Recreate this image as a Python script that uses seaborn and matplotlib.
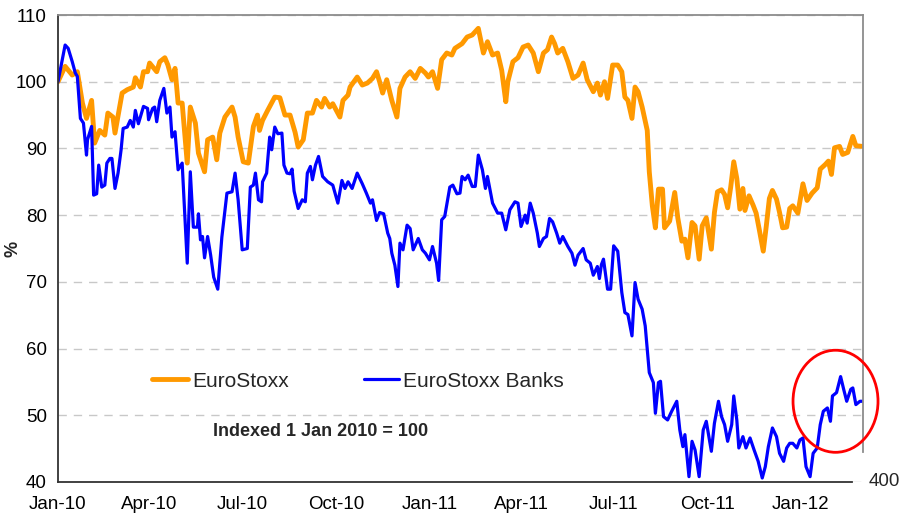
import pandas as pd
import seaborn as sns
import matplotlib
matplotlib.use("Agg")
import matplotlib.pyplot as plt
import matplotlib.dates as mdates
from matplotlib.patches import Ellipse

# Days since 1 Jan 2010 and index values
stoxx_days = [0, 7, 14, 19, 24, 28, 33, 36, 41, 46, 49, 54, 56, 63, 68, 74, 76, 81, 84, 88,
              90, 97, 100, 105, 108, 112, 115, 118, 122, 127, 130, 135, 138, 144, 147, 152, 156, 159, 164, 171,
              174, 177, 182, 187, 192, 196, 198, 201, 206, 213, 218, 223, 228, 233, 236, 241, 245, 250, 254, 259,
              262, 267, 270, 277, 280, 285, 287, 294, 299, 304, 309, 313, 316, 319, 323, 328, 333, 336, 341, 346,
              351, 356, 361, 364, 368, 373, 377, 382, 387, 390, 397, 402, 407, 413, 418, 422, 427, 432, 436, 440,
              442, 447, 452, 457, 462, 467, 472, 477, 481, 485, 488, 491, 496, 501, 506, 511, 516, 520, 526, 530,
              533, 537, 540, 545, 550, 554, 557, 560, 564, 567, 570, 574, 579, 581, 584, 587, 590, 594, 596, 601,
              606, 609, 613, 616, 619, 623, 626, 630, 633, 637, 642, 645, 648, 652, 655, 658, 661, 664, 667, 670,
              673, 675, 679, 683, 686, 689, 693, 696, 699, 702, 706, 709, 712, 716, 719, 722, 727, 732, 736, 741,
              746, 749, 754, 757, 760, 763, 768, 771, 776, 781, 784, 791]
stoxx = [100, 102.3, 101, 101.5, 96.8, 94.5, 97.2, 90.8, 92.7, 92, 95.3, 94.7, 92.3, 98.3, 98.8, 99.2, 100.6, 99.2, 101.5, 101.5,
         102.8, 101.5, 103, 103.6, 102.5, 100.3, 102, 96.8, 96.8, 87.8, 96.2, 93.8, 89.3, 86.5, 91.3, 91.7, 88.3, 92.3, 94.7, 96.2,
         94.7, 91.7, 88, 87.8, 93.3, 95, 92.7, 94.2, 95.7, 97.7, 97.6, 95, 95, 92.4, 90.2, 91.3, 95.3, 95.3, 97.2, 96.2,
         97.5, 96.2, 96.7, 94.7, 97.2, 98, 99.2, 100.7, 99.5, 99.8, 100.5, 101.5, 100, 98.3, 100.3, 97.2, 94.7, 99, 100.7, 101.5,
         100.5, 102, 101.3, 100.7, 101.5, 99, 103.3, 104.3, 104, 105, 105.7, 106.7, 107, 108, 104.3, 106, 104, 104.3, 101.7, 97,
         100, 103, 103.6, 105.2, 105.5, 104.3, 101.5, 104.3, 104.8, 106.7, 105.7, 104.3, 105, 103, 100.5, 101, 102.8, 100.3, 98.5, 99.8,
         98, 100, 97.5, 102.5, 102.5, 101.5, 97.7, 97.2, 94.5, 99.2, 98.5, 96.2, 92.7, 86.5, 81.4, 78.1, 83.9, 83.9, 78.1, 79.1,
         83.4, 79.6, 76.1, 76.4, 73.6, 78.9, 78.4, 73.4, 78.4, 79.6, 74.9, 80.4, 83.5, 83.8, 83.1, 81.1, 84.2, 88, 85.5, 80.9,
         84, 80.7, 82.9, 81.5, 80.3, 77.9, 74.6, 78.4, 82.5, 83.7, 82.4, 80.4, 78.1, 78.2, 81, 81.4, 80.3, 84.7, 82.2, 83.3,
         84.1, 86.9, 87.6, 88.1, 86.1, 90.1, 90.3, 89.1, 89.4, 91.8, 90.4, 90.3]

banks_days = [0, 7, 10, 14, 17, 19, 22, 25, 28, 29, 33, 35, 38, 40, 43, 46, 48, 51, 53, 56,
              59, 62, 64, 68, 71, 74, 76, 79, 84, 88, 89, 93, 95, 97, 100, 104, 107, 110, 112, 115,
              118, 122, 127, 130, 133, 137, 138, 140, 142, 144, 147, 150, 153, 157, 161, 166, 171, 174, 177, 181,
              186, 189, 192, 194, 197, 200, 201, 205, 208, 210, 213, 216, 220, 222, 225, 228, 230, 232, 236, 240,
              243, 245, 248, 250, 253, 256, 260, 265, 270, 275, 279, 282, 285, 289, 294, 299, 303, 307, 309, 313,
              316, 320, 324, 326, 328, 331, 334, 336, 339, 343, 346, 349, 354, 358, 361, 365, 368, 372, 374, 377,
              380, 385, 388, 392, 395, 397, 400, 403, 407, 410, 413, 417, 420, 422, 427, 432, 436, 440, 444, 449,
              452, 455, 459, 461, 464, 467, 471, 473, 477, 480, 483, 486, 490, 493, 496, 501, 505, 508, 511, 516,
              519, 523, 526, 530, 532, 534, 536, 540, 543, 546, 550, 554, 557, 560, 564, 567, 570, 574, 577, 581,
              585, 587, 590, 592, 595, 599, 603, 608, 611, 614, 616, 620, 623, 626, 630, 634, 637, 639, 642, 645,
              649, 652, 655, 658, 662, 664, 667, 669, 673, 676, 680, 684, 688, 692, 695, 698, 702, 706, 709, 713,
              716, 719, 722, 726, 729, 732, 735, 739, 742, 746, 749, 752, 756, 759, 761, 765, 769, 772, 775, 779,
              781, 784, 788, 791]
banks = [100, 105.5, 105, 103, 101.3, 100.8, 94.5, 93.8, 89, 91.3, 93.3, 83, 83.2, 87.5, 84.2, 84.5, 87.8, 88.5, 88.5, 84,
         86.3, 89.8, 93, 93.2, 94.2, 93.2, 95.7, 93.7, 96.3, 96, 94.3, 96, 96.2, 94, 97.2, 99, 95.3, 96.2, 91.7, 92.5,
         86.8, 87.8, 72.8, 86.5, 78.2, 78.2, 80.2, 76.3, 76.8, 73.6, 76.8, 74, 70.7, 68.9, 76.7, 83.3, 83.5, 86.3, 82.3, 74.8,
         75, 84.2, 84.5, 86.3, 82.3, 82, 85, 86.3, 91.7, 89.8, 93.2, 92.2, 92.3, 87.5, 86.3, 86.2, 86.9, 83.6, 81, 82.3,
         82, 86.3, 87.3, 85.3, 87.5, 88.8, 85.8, 85, 84.5, 81.8, 85.2, 84, 85, 84, 86.3, 84.7, 83.3, 81.8, 82.3, 79.2,
         80.4, 80.2, 77.3, 76.5, 74.3, 72.5, 69.3, 75.8, 74.8, 78.5, 78, 74.8, 76.5, 74.8, 74.3, 73.3, 75.3, 72.8, 70.2, 79.3,
         79.8, 84.2, 84.5, 83.2, 83.3, 85.8, 85.3, 86, 84.3, 84.3, 89, 86.8, 84, 85.8, 81.8, 80.3, 80.3, 77.8, 80.8, 82,
         81.8, 78.3, 80, 78.8, 81.8, 80.3, 77.3, 75.3, 76.5, 76.8, 79.5, 79, 77.3, 75.8, 76.8, 75.3, 74.3, 72.5, 74, 75,
         73.3, 72.8, 71, 72.3, 70.5, 72.6, 73.4, 68.9, 68.9, 75.4, 74.6, 68.4, 65.4, 65.1, 61.9, 69.9, 67.4, 65.9, 63.4, 56.4,
         54.9, 50.3, 54.9, 55.1, 49.8, 49.3, 50.6, 52.1, 47.8, 45.3, 47.1, 40.8, 46.1, 44.8, 40.8, 47.8, 49.1, 47.3, 44.6, 48.8,
         52.1, 49.8, 48.6, 46.1, 48.6, 52.9, 49.3, 45.1, 46.8, 45.1, 46.6, 44.8, 43.1, 40.6, 42.3, 45.3, 48.1, 46.8, 44.3, 43.1,
         45.1, 45.8, 45.8, 45.1, 46.3, 46.6, 42.3, 40.8, 44.3, 45.1, 48.6, 50.6, 51.1, 49.1, 52.9, 53.4, 55.8, 53.9, 52.1, 53.9,
         54.1, 51.6, 52.1, 52.1]

start = pd.Timestamp("2010-01-01")
df_stoxx = pd.DataFrame({"date": start + pd.to_timedelta(stoxx_days, unit="D"), "value": stoxx})
df_banks = pd.DataFrame({"date": start + pd.to_timedelta(banks_days, unit="D"), "value": banks})

sns.set_style("white")
plt.rcParams["font.family"] = ["Liberation Sans", "DejaVu Sans"]

fig = plt.figure(figsize=(9, 5.24), dpi=100)
ax = fig.add_axes([58 / 900, 42 / 524, 805 / 900, 467 / 524])

sns.lineplot(data=df_stoxx, x="date", y="value", color="#FF9900", linewidth=3.5,
             label="EuroStoxx", estimator=None, ax=ax)
sns.lineplot(data=df_banks, x="date", y="value", color="#0000FF", linewidth=2.3,
             label="EuroStoxx Banks", estimator=None, ax=ax)

ax.set_xlim(start, pd.Timestamp("2012-03-02"))
ax.set_ylim(40, 110)
ax.set_yticks(range(40, 111, 10))
ax.xaxis.set_major_locator(mdates.MonthLocator(bymonth=[1, 4, 7, 10]))
ax.xaxis.set_major_formatter(mdates.DateFormatter("%b-%y"))
ax.tick_params(axis="both", labelsize=13.5, colors="#333333", labelcolor="black", length=4, width=1, direction="out")
ax.tick_params(axis="y", pad=4)
ax.tick_params(axis="x", pad=6)
ax.set_xlabel("")
ax.set_ylabel("%", fontsize=13, fontweight="bold")
ax.yaxis.set_label_coords(-0.045, 0.5)

ax.yaxis.grid(True, color="#c8c8c8", linestyle=(0, (6, 5)), linewidth=1)
ax.xaxis.grid(False)

for side in ["left", "bottom"]:
    ax.spines[side].set_color("#333333")
    ax.spines[side].set_linewidth(1.3)
for side in ["top", "right"]:
    ax.spines[side].set_color("#8c8c8c")
    ax.spines[side].set_linewidth(1.3)
ax.spines["right"].set_bounds(44.5, 110)
ax.spines["bottom"].set_bounds(mdates.date2num(start), mdates.date2num(pd.Timestamp("2012-02-20")))

ax.legend(loc="center left", bbox_to_anchor=(0.094, 0.216), ncol=2, frameon=False, fontsize=15,
          handlelength=1.7, handletextpad=0.2, columnspacing=3.6)

ax.text(mdates.date2num(pd.Timestamp("2010-06-02")), 47.5, "Indexed 1 Jan 2010 = 100",
        fontsize=13, fontweight="bold", va="center", ha="left")
ax.text(1.007, 0.0, "400", transform=ax.transAxes, fontsize=13.5, va="center", ha="left")

circle = Ellipse((mdates.date2num(pd.Timestamp("2012-02-04")), 52.1), width=83.5, height=15.3,
                 fill=False, edgecolor="#FF0000", linewidth=2, clip_on=False, zorder=5)
ax.add_patch(circle)

fig.savefig("out.png", dpi=100)
